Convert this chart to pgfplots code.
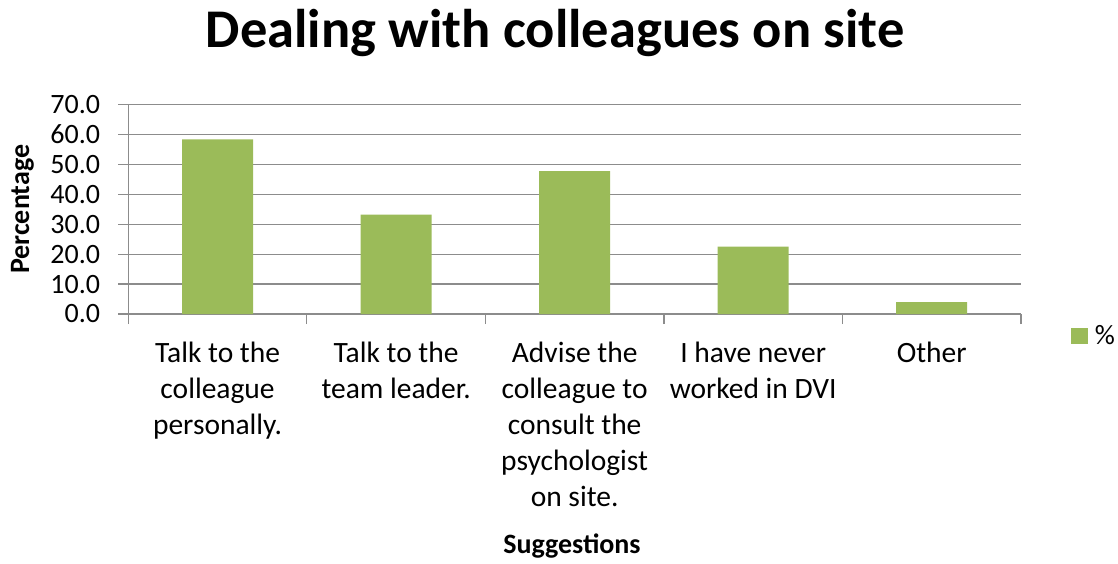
\documentclass[border=0pt]{standalone}
\usepackage{fontspec}
\setmainfont{Carlito}
\usepackage{pgfplots}
\pgfplotsset{compat=1.18}
\definecolor{barg}{HTML}{9BBB59}
\definecolor{gridg}{HTML}{8C8C8C}
\begin{document}
\begin{tikzpicture}
\useasboundingbox (-128.3pt,-249pt) rectangle (989.7pt,314pt);
\begin{axis}[
  at={(0pt,0pt)}, anchor=south west,
  scale only axis, width=892.7pt, height=209.3pt,
  ybar, bar width=71pt,
  ymin=0, ymax=70, ytick={0,10,...,70},
  xmin=-0.5, xmax=4.5,
  xtick={-0.5,0.5,1.5,2.5,3.5,4.5}, xticklabels={},
  extra x ticks={0,1,2,3,4},
  extra x tick labels={{Talk to the\\colleague\\personally.},
    {Talk to the\\team leader.},
    {Advise the\\colleague to\\consult the\\psychologist\\on site.},
    {I have never\\worked in DVI},
    {Other}},
  extra x tick style={major tick length=0pt,
    xticklabel style={align=center, anchor=north, inner sep=0pt, yshift=-28pt,
      font=\fontsize{29.5}{36}\selectfont}},
  axis x line*=bottom, axis y line*=left,
  axis line style={gridg, line width=1.3pt, -},
  tick style={gridg, line width=1.3pt},
  tick align=outside, major tick length=10pt,
  ymajorgrids, grid style={gridg, line width=1.3pt},
  yticklabel style={/pgf/number format/.cd, fixed, fixed zerofill, precision=1,
    assume math mode=true, /tikz/.cd, anchor=east, inner sep=0pt, xshift=-18pt,
    font=\fontsize{28}{34}\selectfont},
  ylabel={\textbf{Percentage}},
  ylabel style={at={(axis description cs:-0.1187,0.5)}, anchor=center, inner sep=0pt,
    font=\fontsize{28}{34}\selectfont},
  xlabel={\textbf{Suggestions}},
  xlabel style={at={(axis description cs:0.497,0)}, anchor=base, inner sep=0pt,
    yshift=-239pt, font=\fontsize{28}{34}\selectfont},
  title={\textbf{Dealing with colleagues on site}},
  title style={at={(axis description cs:0.478,1.247)}, anchor=base, inner sep=0pt,
    font=\fontsize{54.5}{60}\selectfont},
  legend image code/.code={\fill[barg] (0pt,-8pt) rectangle (17pt,8pt);},
  legend style={at={(axis description cs:1.0557,-0.105)}, anchor=west,
    draw=none, fill=none, inner sep=0pt, column sep=7pt,
    nodes={inner sep=0pt}, font=\fontsize{28}{34}\selectfont},
]
\addplot[fill=barg, draw=none] coordinates {(0,58.4) (1,33.2) (2,47.8) (3,22.5) (4,4.0)};
\addlegendentry{\%}
\end{axis}
\end{tikzpicture}
\end{document}
